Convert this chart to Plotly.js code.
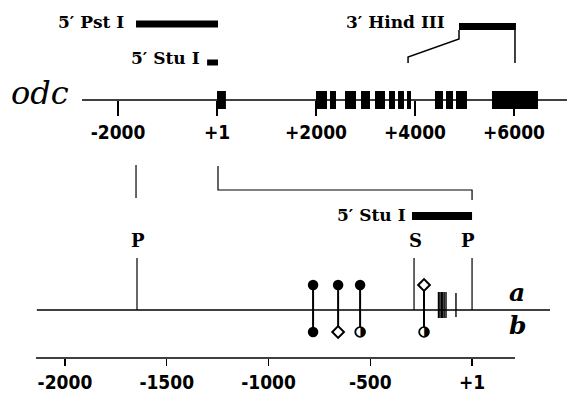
<!DOCTYPE html>
<html>
<head>
<meta charset="utf-8">
<script src="https://cdn.plot.ly/plotly-3.0.1.min.js"></script>
<style>html,body{margin:0;padding:0;background:#fff;}#chart{width:572px;height:400px;}</style>
</head>
<body>
<div id="chart"></div>
<script>
// ---------- DATA (bp coordinates) ----------
// Upper map: odc gene, scale relative to transcription start (+1)
const geneTickVals = [-2000, 1, 2000, 4000, 6000];
const geneTickText = ['-2000', '+1', '+2000', '+4000', '+6000'];
const geneSpan = [-2727, 7070];
const exonStart = [0, 2000, 2283, 2586, 2909, 3192, 3475, 3657, 3838, 4404, 4626, 4828, 5556];
const exonEnd   = [180, 2222, 2404, 2808, 3091, 3394, 3596, 3778, 3919, 4566, 4768, 5051, 6485];
const probeNames = ['5\u2032 Pst I', '5\u2032 Stu I', '3\u2032 Hind III'];
const probeStart = [-1636, -200, 4889];
const probeEnd   = [20, 20, 6040];
const hindSite   = [3860, 6020];

// Lower map: promoter region
const promTickVals = [-2000, -1500, -1000, -500, 0];
const promTickText = ['-2000', '-1500', '-1000', '-500', '+1'];
const promSpan = [-2138, 383];
const promAxisSpan = [-2142, 211];
const siteNames = ['P', 'S', 'P'];
const sitePos   = [-1646, -285, 0];
const lowerProbeName = '5\u2032 Stu I';
const lowerProbe = [-295, 0];
const lolliPos    = [-781, -658, -550, -236];
const alleleA     = ['filled', 'filled', 'filled', 'open'];
const alleleB     = ['filled', 'open', 'half', 'half'];
const clusterPos  = [-165, -158, -151, -144, -137, -128];
const singleMark  = [-79];
const rowLabels   = ['a', 'b'];

// ---------- LAYOUT ROWS (pixel rows of the figure) ----------
const Y_GENE = 100, EXON_TOP = 91, EXON_BOT = 109;
const Y_PROBE = [24, 62.5, 26.5], PROBE_W = [7, 6, 7];
const Y_PROM = 310, Y_LOLLI_A = 285, Y_LOLLI_B = 332;
const Y_PROM_AXIS = 358;

const X1 = [-4384, 7172];   // upper axis range
const X2 = [-2319, 491];    // lower axis range
const W = 572, H = 400;
const px1 = v => (v - X1[0]) / (X1[1] - X1[0]) * W;
const fromPx1 = p => X1[0] + p / W * (X1[1] - X1[0]);
const px2 = v => (v - X2[0]) / (X2[1] - X2[0]) * W;
const toTop = v => fromPx1(px2(v));   // lower-scale bp -> upper-scale bp

const shapes = [];
const L = {color: '#000', width: 1.5};
// gene line
shapes.push({type: 'line', xref: 'x', yref: 'y', x0: geneSpan[0], x1: geneSpan[1], y0: Y_GENE, y1: Y_GENE, line: L});
// exons
exonStart.forEach((s, i) => shapes.push({type: 'rect', xref: 'x', yref: 'y', x0: s, x1: exonEnd[i], y0: EXON_TOP, y1: EXON_BOT, fillcolor: '#000', line: {width: 0}}));
// probe bars
probeStart.forEach((s, i) => shapes.push({type: 'rect', xref: 'x', yref: 'y', x0: s, x1: probeEnd[i], y0: Y_PROBE[i] - PROBE_W[i] / 2, y1: Y_PROBE[i] + PROBE_W[i] / 2, fillcolor: '#000', line: {width: 0}}));
// Hind III connectors
shapes.push({type: 'path', xref: 'x', yref: 'y', path: `M ${probeStart[2]} 30 L ${probeStart[2]} 39 L ${hindSite[0]} 57 L ${hindSite[0]} 63`, line: L});
shapes.push({type: 'path', xref: 'x', yref: 'y', path: `M ${hindSite[1]} 30 L ${hindSite[1]} 63`, line: L});
// connectors from upper map to lower map
shapes.push({type: 'line', xref: 'x', yref: 'y', x0: probeStart[0], x1: probeStart[0], y0: 165, y1: 198, line: {color: '#000', width: 1.2}});
shapes.push({type: 'path', xref: 'x', yref: 'y', path: `M ${probeEnd[0]} 166 L ${probeEnd[0]} 190 L ${toTop(lowerProbe[1])} 190 L ${toTop(lowerProbe[1])} 200`, line: {color: '#000', width: 1.2}});
// lower probe bar
shapes.push({type: 'rect', xref: 'x2', yref: 'y', x0: lowerProbe[0], x1: lowerProbe[1], y0: 212, y1: 220, fillcolor: '#000', line: {width: 0}});
// promoter line
shapes.push({type: 'line', xref: 'x2', yref: 'y', x0: promSpan[0], x1: promSpan[1], y0: Y_PROM, y1: Y_PROM, line: L});
// restriction sites
sitePos.forEach(s => shapes.push({type: 'line', xref: 'x2', yref: 'y', x0: s, x1: s, y0: 258, y1: Y_PROM, line: {color: '#000', width: 1.2}}));
// cluster marks
clusterPos.forEach(s => shapes.push({type: 'line', xref: 'x2', yref: 'y', x0: s, x1: s, y0: 292, y1: 318, line: {color: '#000', width: 1.4}}));
singleMark.forEach(s => shapes.push({type: 'line', xref: 'x2', yref: 'y', x0: s, x1: s, y0: 293, y1: 317, line: {color: '#000', width: 1.4}}));
// lower axis line
shapes.push({type: 'line', xref: 'x2', yref: 'y', x0: promAxisSpan[0], x1: promAxisSpan[1], y0: Y_PROM_AXIS, y1: Y_PROM_AXIS, line: L});

// ---------- TRACES ----------
const traces = [];
// lollipop stems
const sx = [], sy = [];
lolliPos.forEach(p => { sx.push(p, p, null); sy.push(Y_LOLLI_A, Y_LOLLI_B, null); });
traces.push({type: 'scatter', mode: 'lines', x: sx, y: sy, xaxis: 'x2', yaxis: 'y', line: {color: '#000', width: 2}, hoverinfo: 'skip'});
function addMarkers(states, yRow) {
  const f = lolliPos.filter((p, i) => states[i] === 'filled');
  const o = lolliPos.filter((p, i) => states[i] === 'open');
  const h = lolliPos.filter((p, i) => states[i] === 'half');
  if (f.length) traces.push({type: 'scatter', mode: 'markers', x: f, y: f.map(() => yRow), xaxis: 'x2', yaxis: 'y', marker: {symbol: 'circle', size: 10.5, color: '#000', line: {width: 0}}});
  if (o.length) traces.push({type: 'scatter', mode: 'markers', x: o, y: o.map(() => yRow), xaxis: 'x2', yaxis: 'y', marker: {symbol: 'diamond', size: 9, color: '#fff', line: {width: 2, color: '#000'}}});
  if (h.length) {
    traces.push({type: 'scatter', mode: 'markers', x: h, y: h.map(() => yRow), xaxis: 'x2', yaxis: 'y', marker: {symbol: 'circle', size: 10, color: '#fff', line: {width: 1.5, color: '#000'}}});
    traces.push({type: 'scatter', mode: 'text', x: h, y: h.map(() => yRow), xaxis: 'x2', yaxis: 'y', text: h.map(() => '\u25D1'), textposition: 'middle center', textfont: {family: 'DejaVu Sans', size: 13, color: '#000'}});
  }
}
addMarkers(alleleA, Y_LOLLI_A);
addMarkers(alleleB, Y_LOLLI_B);

// ---------- ANNOTATIONS ----------
const serif = {family: 'DejaVu Serif, serif', size: 17, color: '#000', weight: 'bold'};
const ann = [];
const probeLabelY = [22, 58, 22];
const probeShift = [-10, -5, -12];
probeNames.forEach((n, i) => ann.push({xref: 'x', yref: 'y', x: probeStart[i], y: probeLabelY[i], text: n, showarrow: false, xanchor: 'right', yanchor: 'middle', xshift: probeShift[i], font: serif}));
ann.push({xref: 'x2', yref: 'y', x: lowerProbe[0], y: 215, text: lowerProbeName, showarrow: false, xanchor: 'right', yanchor: 'middle', xshift: -4, font: serif});
siteNames.forEach((n, i) => ann.push({xref: 'x2', yref: 'y', x: sitePos[i], y: 240, text: n, showarrow: false, xanchor: 'center', yanchor: 'middle', xshift: i === 2 ? -4 : 1, font: {family: 'DejaVu Serif, serif', size: 18, color: '#000', weight: 'bold'}}));
ann.push({xref: 'paper', yref: 'y', x: 9 / W, y: 93, text: 'odc', showarrow: false, xanchor: 'left', yanchor: 'middle', font: {family: 'DejaVu Serif, serif', size: 32, color: '#000', style: 'italic'}});
const abFont = {family: 'DejaVu Serif, serif', size: 25, color: '#000', style: 'italic', weight: 'bold'};
ann.push({xref: 'paper', yref: 'y', x: 517 / W, y: 292, text: rowLabels[0], showarrow: false, xanchor: 'center', yanchor: 'middle', font: abFont});
ann.push({xref: 'paper', yref: 'y', x: 517 / W, y: 325, text: rowLabels[1], showarrow: false, xanchor: 'center', yanchor: 'middle', font: abFont});

const tickFont = {family: 'DejaVu Sans Condensed, DejaVu Sans', size: 19, color: '#000', weight: 'bold'};
const layout = {
  width: W, height: H, margin: {l: 0, r: 0, t: 0, b: 0},
  paper_bgcolor: '#fff', plot_bgcolor: '#fff', showlegend: false,
  xaxis: {range: X1, anchor: 'free', position: 1 - Y_GENE / H, side: 'bottom', tickvals: geneTickVals, ticktext: geneTickText,
          ticks: 'outside', ticklen: 15, tickwidth: 1.5, tickcolor: '#000', showline: false, showgrid: false, zeroline: false,
          tickfont: tickFont, fixedrange: true},
  xaxis2: {range: X2, overlaying: 'x', anchor: 'free', position: 1 - Y_PROM_AXIS / H, side: 'bottom', tickvals: promTickVals, ticktext: promTickText,
          ticks: 'outside', ticklen: 7, tickwidth: 1.5, tickcolor: '#000', showline: false, showgrid: false, zeroline: false,
          tickfont: tickFont, fixedrange: true},
  yaxis: {range: [H, 0], visible: false, fixedrange: true},
  shapes: shapes, annotations: ann
};
Plotly.newPlot('chart', traces, layout, {staticPlot: true, displayModeBar: false});
</script>
</body>
</html>
